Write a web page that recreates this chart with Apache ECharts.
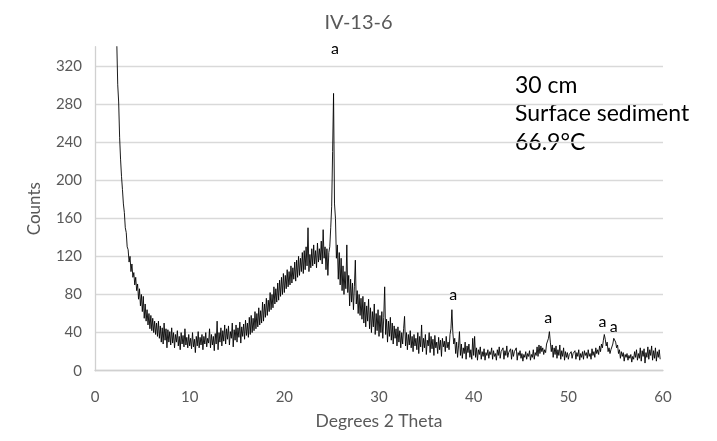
<!DOCTYPE html>
<html>
<head>
<meta charset="utf-8">
<script src="https://cdn.jsdelivr.net/npm/echarts@6/dist/echarts.min.js"></script>
<style>
html,body{margin:0;padding:0;background:#fff;}
#chart{width:717px;height:441px;}
</style>
</head>
<body>
<div id="chart"></div>
<script>
// Degrees 2 Theta: each row covers one whole degree, 0.1 degree per value
var rowStartDeg = 2;
var thetaStep = 0.1;
var countRows = [
  [null,null,null,345,300,282,245,222,204,190],
  [175,166,150,145,130,127,114,120,104,112],
  [98,103,90,98,84,91,75,86,68,80],
  [62,78,55,70,52,64,48,60,44,58],
  [42,55,40,52,38,50,36,52,34,47],
  [30,45,28,50,32,44,24,43,30,41],
  [27,45,29,40,24,38,30,42,26,36],
  [22,40,28,37,25,44,27,35,24,38],
  [26,34,23,40,25,33,19,36,26,41],
  [24,35,27,38,22,36,28,40,25,34],
  [29,44,24,38,27,36,21,39,28,52],
  [22,40,30,45,26,42,31,48,28,44],
  [33,47,27,41,34,50,25,43,32,48],
  [30,45,35,51,29,46,36,49,33,53],
  [37,50,35,56,38,58,40,55,42,62],
  [44,60,46,66,48,63,50,72,52,70],
  [56,76,58,74,62,82,64,80,66,88],
  [70,86,72,92,74,95,78,98,80,102],
  [82,100,86,106,88,104,90,110,92,108],
  [96,114,94,116,98,120,100,118,104,124],
  [102,126,106,130,110,150,104,122,108,128],
  [110,132,112,126,108,134,114,128,116,136],
  [112,148,118,130,106,128,100,124,130,150],
  [172,230,291,175,160,118,132,96,124,90],
  [118,84,110,80,104,86,132,82,100,68],
  [96,72,92,64,88,116,70,84,60,80],
  [58,76,54,78,50,72,46,68,52,75],
  [44,66,40,62,46,70,38,60,42,64],
  [36,58,40,62,34,56,88,38,54,30],
  [52,36,56,32,50,28,47,34,44,26],
  [46,30,42,24,40,28,44,57,26,40],
  [22,38,27,42,24,36,20,38,26,34],
  [22,40,18,36,25,48,20,34,24,38],
  [17,32,26,40,19,36,23,33,16,37],
  [24,30,18,35,22,32,15,34,25,31],
  [20,36,24,30,22,38,44,64,40,28],
  [34,18,30,14,26,41,16,28,13,24],
  [18,30,12,26,19,28,14,22,12,34],
  [16,36,14,24,11,22,17,25,12,20],
  [15,23,11,19,16,22,13,20,17,24],
  [12,21,15,18,11,22,16,25,13,20],
  [18,24,12,21,16,26,14,19,17,23],
  [12,22,15,20,18,24,11,19,16,21],
  [13,18,10,17,14,20,12,18,15,21],
  [11,17,14,22,12,19,16,25,15,27],
  [18,26,20,24,17,22,19,28,26,34],
  [41,30,20,27,14,24,17,26,13,22],
  [16,27,12,21,15,24,11,20,14,19],
  [12,17,15,20,13,18,16,21,12,19],
  [15,22,11,18,14,20,12,21,16,19],
  [13,22,15,18,12,23,16,20,14,24],
  [18,22,17,26,20,28,24,32,38,33],
  [26,30,20,24,18,22,20,28,34,36],
  [30,24,27,18,22,13,20,15,19,10],
  [17,14,18,11,16,13,17,9,15,12],
  [20,14,22,11,18,13,24,10,21,15],
  [23,8,19,14,25,12,22,16,26,11],
  [21,13,24,10,20,14,22,12]
];

// Peak annotations ("a"): position of each label in data coordinates
var peakLabelTheta = [25.34, 37.84, 47.87, 53.61, 54.8];
var peakLabelCount = [337.6, 79.5, 55.7, 51.5, 46.2];

var xTicks = [0, 60, 10];      // min, max, interval
var yTicks = [0, 340, 40];     // min, max, interval

var chartTitle = 'IV-13-6';
var noteLines = ['30 cm', 'Surface sediment', '66.9°C'];
var xName = 'Degrees 2 Theta';
var yName = 'Counts';

var FONT = 'Lato';
var GREY = '#595959';

var seriesData = [];
countRows.forEach(function (row, r) {
  row.forEach(function (c, j) {
    var th = Math.round((rowStartDeg + r + j * thetaStep) * 10) / 10;
    if (c !== null) seriesData.push([th, c]);
  });
});

var markData = peakLabelTheta.map(function (t, i) {
  return { coord: [t, peakLabelCount[i]], value: 'a' };
});

var chart = echarts.init(document.getElementById('chart'), null, { renderer: 'canvas' });
chart.setOption({
  animation: false,
  backgroundColor: '#ffffff',
  title: {
    text: chartTitle,
    left: 'center',
    top: 8,
    textStyle: { fontFamily: FONT, fontSize: 20, fontWeight: 'normal', color: GREY }
  },
  grid: { left: 95, right: 54, top: 46.7, bottom: 70.3, containLabel: false },
  xAxis: {
    type: 'value',
    min: xTicks[0], max: xTicks[1], interval: xTicks[2],
    name: xName,
    nameLocation: 'middle',
    nameGap: 42,
    nameTextStyle: { fontFamily: FONT, fontSize: 17.5, color: GREY },
    axisLine: { show: true, lineStyle: { color: '#d0d0d0', width: 1.3 } },
    axisTick: { show: false },
    splitLine: { show: false },
    axisLabel: { fontFamily: FONT, fontSize: 15, color: GREY, margin: 19 }
  },
  yAxis: {
    type: 'value',
    min: yTicks[0], max: yTicks[1], interval: yTicks[2],
    name: yName,
    nameLocation: 'middle',
    nameGap: 52,
    nameTextStyle: { fontFamily: FONT, fontSize: 17, color: GREY },
    axisLine: { show: true, lineStyle: { color: '#d0d0d0', width: 1.3 } },
    axisTick: { show: false },
    splitLine: { show: true, showMaxLine: false, lineStyle: { color: '#d9d9d9', width: 1.3 } },
    axisLabel: {
      fontFamily: FONT, fontSize: 15, color: GREY, margin: 13,
      formatter: function (v) { return v % yTicks[2] === 0 ? String(v) : ''; }
    }
  },
  graphic: [{
    type: 'text',
    left: 515,
    top: 71,
    style: {
      text: noteLines.join('\n'),
      font: '23px ' + FONT,
      lineHeight: 28.5,
      fill: '#000'
    }
  }],
  series: [{
    type: 'line',
    data: seriesData,
    showSymbol: false,
    symbol: 'none',
    sampling: null,
    clip: true,
    lineStyle: { color: '#000', width: 0.9 },
    markPoint: {
      symbol: 'circle',
      symbolSize: 0,
      silent: true,
      label: {
        show: true,
        position: 'inside',
        formatter: 'a',
        fontFamily: FONT,
        fontSize: 16,
        color: '#000'
      },
      data: markData
    }
  }]
});
</script>
</body>
</html>
